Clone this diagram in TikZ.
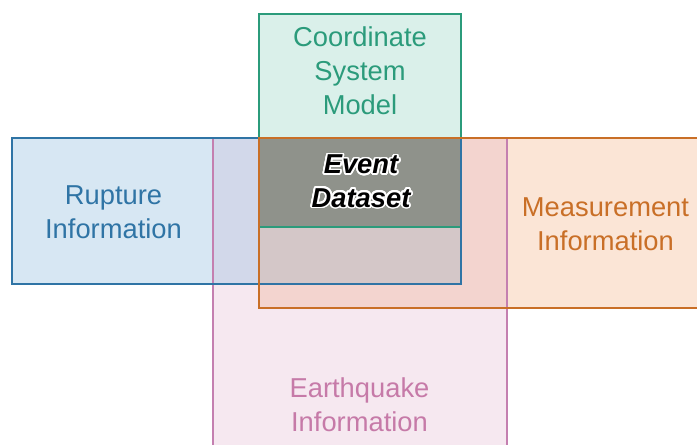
\documentclass[tikz,border=0pt]{standalone}
\usepackage{fontspec}
\setmainfont{Liberation Sans}
\usepackage[copies]{contour}
\contourlength{1.3pt}
\contournumber{24}
\definecolor{gStroke}{HTML}{2B9B7B}
\definecolor{gFill}{HTML}{DAF0EA}
\definecolor{bStroke}{HTML}{2F74A5}
\definecolor{bFill}{HTML}{D7E7F3}
\definecolor{oStroke}{HTML}{C96F27}
\definecolor{oFill}{HTML}{FBE5D6}
\definecolor{pStroke}{HTML}{C47FB0}
\definecolor{pText}{HTML}{C67AA8}
\definecolor{pFill}{HTML}{F6E8F0}
\definecolor{bpFill}{HTML}{D2D8EA}
\definecolor{opFill}{HTML}{F3D4CF}
\definecolor{bopFill}{HTML}{D4C7C8}
\definecolor{evFill}{HTML}{8F928B}
\begin{document}
\begin{tikzpicture}[x=0.75pt,y=-0.75pt,
  boxline/.style={line width=2.2pt},
  lbl/.style={align=center,inner sep=0pt,font=\fontsize{20.5}{25.5}\selectfont}]
\useasboundingbox (0,0) rectangle (697,444);
% fills
\fill[pFill] (213,138) rectangle (507,450);
\fill[bFill] (12,138) rectangle (461,284);
\fill[bpFill] (213,138) rectangle (461,284);
\fill[oFill] (259,138) rectangle (705,308);
\fill[opFill] (259,138) rectangle (507,308);
\fill[bopFill] (259,138) rectangle (461,284);
\fill[gFill] (259,14) rectangle (461,227);
\fill[evFill] (259,138) rectangle (461,227);
% outlines
\draw[boxline,pStroke] (213,450) -- (213,138) -- (507,138) -- (507,450);
\draw[boxline,gStroke] (259,14) rectangle (461,227);
\draw[boxline,bStroke] (12,138) rectangle (461,284);
\draw[boxline,oStroke] (705,138) -- (259,138) -- (259,308) -- (705,308);
% labels
\node[lbl,text=gStroke] (coord) at (360,71) {Coordinate\\System\\Model};
\node[lbl,text=bStroke] (rupt) at (113.5,212) {Rupture\\Information};
\node[lbl,text=oStroke] (meas) at (605.5,224) {Measurement\\Information};
\node[lbl,text=pText] (quake) at (359.5,405) {Earthquake\\Information};
\node[lbl,font=\fontsize{20.5}{25}\selectfont\bfseries\itshape] (event) at (361,182)
  {\contour{white}{Event}\\\contour{white}{Dataset}};
\end{tikzpicture}
\end{document}
